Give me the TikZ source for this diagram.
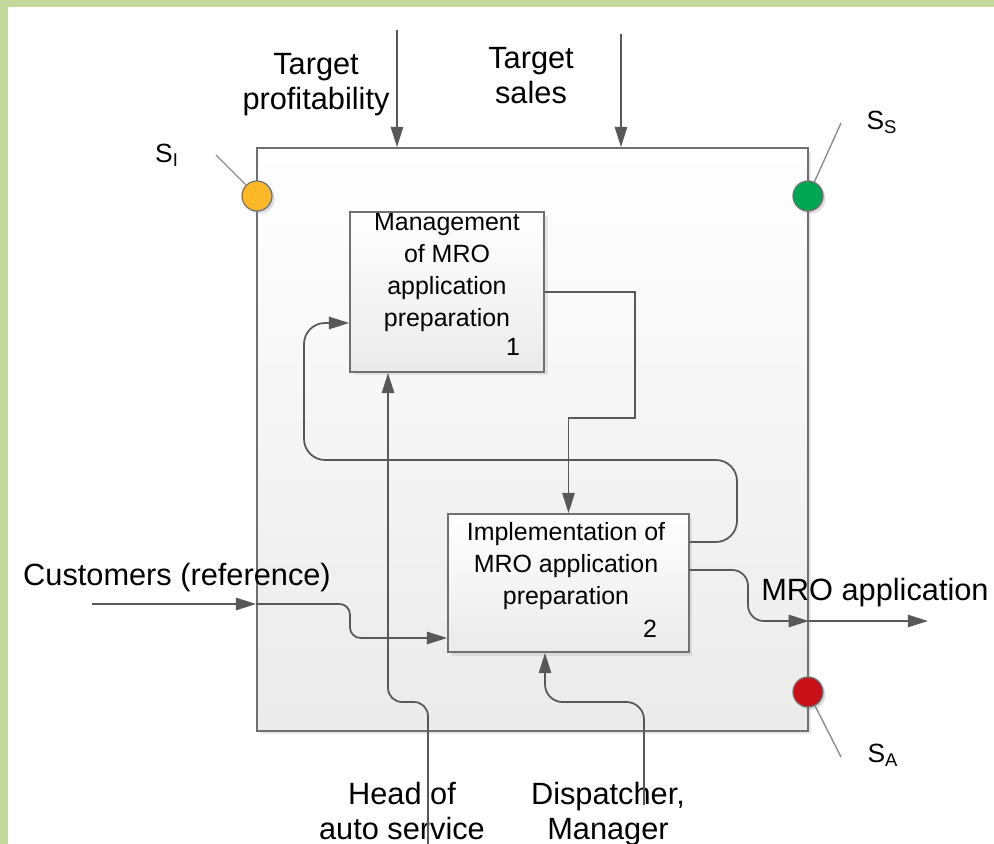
\documentclass[tikz,border=0pt]{standalone}
\usepackage{fontspec}
\setmainfont{Liberation Sans}
\usetikzlibrary{arrows.meta,shadows}
\definecolor{greenframe}{RGB}{197,216,156}
\definecolor{wiregray}{RGB}{88,88,88}
\definecolor{edgegray}{RGB}{112,112,112}
\definecolor{tickgray}{RGB}{140,140,140}
\definecolor{sigyellow}{RGB}{253,184,39}
\definecolor{siggreen}{RGB}{0,166,81}
\definecolor{sigred}{RGB}{200,16,24}

\begin{document}
\begin{tikzpicture}[x=0.02cm,y=-0.02cm,
	block/.style={draw=edgegray,line width=1pt,top color=white,bottom color=black!8,inner sep=0pt,
		drop shadow={opacity=0.18,shadow xshift=2pt,shadow yshift=-2pt}},
	wire/.style={draw=wiregray,line width=1pt},
	flow/.style={wire,-{Triangle[length=11.5pt,width=7pt]}},
	bigtext/.style={font=\fontsize{17.5}{20}\selectfont,align=center,inner sep=0pt},
	boxtext/.style={font=\fontsize{14.2}{18.3}\selectfont,align=center,inner sep=0pt},
	siglabel/.style={font=\fontsize{15}{18}\selectfont,inner sep=0pt},
	signal/.style={circle,draw=edgegray,line width=0.7pt,minimum size=0.6cm,inner sep=0pt,
		drop shadow={opacity=0.25,shadow xshift=1.5pt,shadow yshift=-1.5pt}},
	tick/.style={draw=tickgray,line width=0.8pt}]
	\useasboundingbox (0,0) rectangle (994,844);
	\fill[greenframe] (0,0) rectangle (994,7);
	\fill[greenframe] (0,0) rectangle (8,844);
	% context box and the two activities
	\node[block,minimum width=11.02cm,minimum height=11.66cm] (ctx) at (532.5,439.5) {};
	\node[block,minimum width=3.88cm,minimum height=3.2cm] (mgmt) at (447,292) {};
	\node[block,minimum width=4.82cm,minimum height=2.76cm] (impl) at (568.5,583) {};
	\node[boxtext,anchor=north] (mgmttxt) at (447,213) {Management\\of MRO\\application\\preparation};
	\node[boxtext] (mgmtno) at (513,347) {1};
	\node[boxtext,anchor=north] (impltxt) at (566,522) {Implementation of\\MRO application\\preparation};
	\node[boxtext] (implno) at (650,629) {2};
	% outer labels
	\node[bigtext,anchor=north] (tprof) at (316,53) {Target\\profitability};
	\node[bigtext,anchor=north] (tsales) at (531,47) {Target\\sales};
	\node[bigtext,anchor=base] (cust) at (177,585) {Customers (reference)};
	\node[bigtext,anchor=base] (appl) at (875,600) {MRO application};
	\node[bigtext,anchor=north] (head) at (402,782) {Head of\\auto service};
	\node[bigtext,anchor=north] (disp) at (608,782) {Dispatcher,\\Manager};
	% free ends
	\coordinate (tprofin) at (397,30);
	\coordinate (tsalesin) at (621,34);
	\coordinate (custin) at (92,604);
	\coordinate (headin) at (428,844);
	\coordinate (dispin) at (644,805);
	\coordinate (applbend) at (748,621);
	\coordinate (applout) at (928,621);
	% arrows
	\draw[flow] (tprofin) -- (tprofin |- ctx.north);
	\draw[flow] (tsalesin) -- (tsalesin |- ctx.north);
	\draw[flow] (custin) -- (custin -| ctx.west);
	\draw[flow,rounded corners=6pt] (custin -| ctx.west) -- (350,604) -- (350,638) -- ([yshift=-1.1cm]impl.west);
	\draw[flow,rounded corners=8pt] (headin) -- (428,702) -- (388,702) -- ([xshift=-1.18cm]mgmt.south);
	\draw[flow,rounded corners=10pt] (dispin) -- (644,702) -- (545,702) -- ([xshift=-0.47cm]impl.south);
	\draw[flow] (mgmt.east) -| (635,418) -| (impl.north);
	\draw[flow,rounded corners=12pt] ([yshift=0.82cm]impl.east) -- (737,542) -- (737,460) -- (304,460) -- (304,323) -- ([yshift=-0.62cm]mgmt.west);
	\draw[flow,rounded corners=9pt] ([yshift=0.26cm]impl.east) -- (748,570) -- (applbend) -- (applbend -| ctx.east);
	\draw[flow] (applbend -| ctx.east) -- (applout);
	% signals
	\node[signal,fill=sigyellow] (sI) at (257,196) {};
	\node[signal,fill=siggreen] (sS) at (808,196) {};
	\node[signal,fill=sigred] (sA) at (808,692) {};
	\coordinate (sIend) at (216,155);
	\coordinate (sSend) at (841,123);
	\coordinate (sAend) at (841,757);
	\draw[tick] (sIend) -- (sI);
	\draw[tick] (sSend) -- (sS);
	\draw[tick] (sA) -- (sAend);
	\node[siglabel] (sIlab) at (167,155) {S\textsubscript{I}};
	\node[siglabel] (sSlab) at (882,122) {S\textsubscript{S}};
	\node[siglabel] (sAlab) at (883,755) {S\textsubscript{A}};
\end{tikzpicture}
\end{document}
